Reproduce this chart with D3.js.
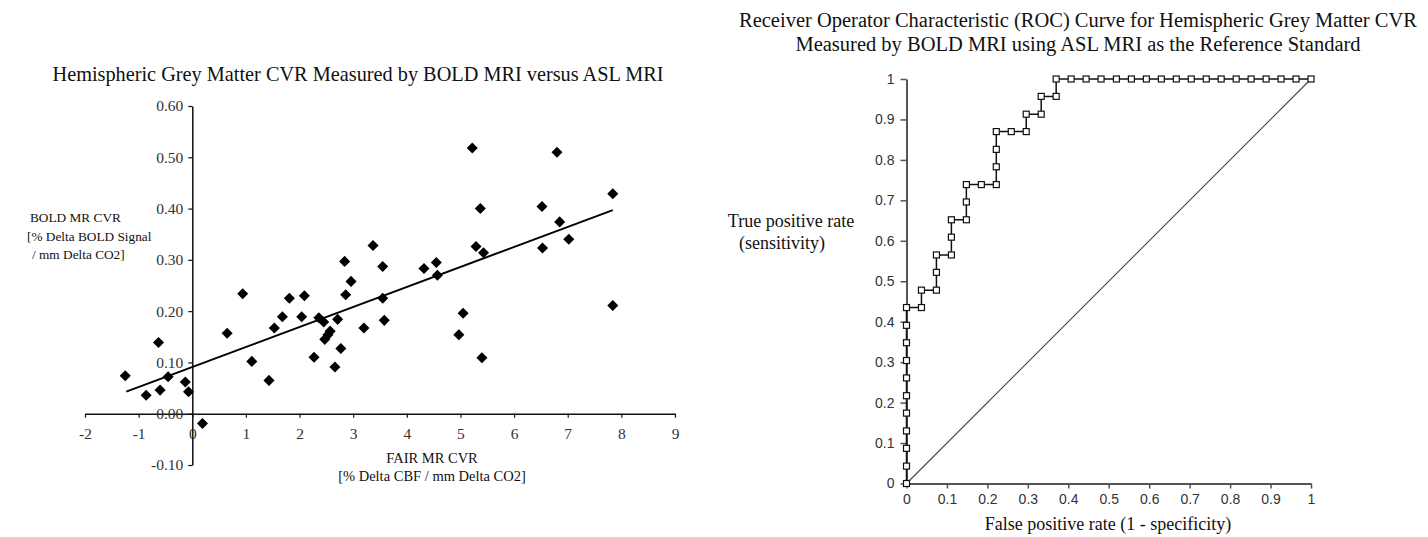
<!DOCTYPE html>
<html>
<head>
<meta charset="utf-8">
<script src="https://cdn.jsdelivr.net/npm/d3@7/dist/d3.min.js"></script>
<style>
  html, body { margin: 0; padding: 0; background: #fff; }
  svg { display: block; }
  .serif { font-family: "Liberation Serif", "Times New Roman", serif; }
  .sans { font-family: "Liberation Sans", Arial, sans-serif; }
</style>
</head>
<body>
<svg id="chart" width="1428" height="537"></svg>
<script>
// ---------------- DATA ----------------
// Left: scatter of FAIR MR CVR (x) vs BOLD MR CVR (y)
const fairCVR = [-1.25, -0.86, -0.63, -0.60, -0.45, -0.13, -0.07, 0.19, 0.65, 0.94,
  1.11, 1.43, 1.53, 1.68, 1.81, 2.04, 2.09, 2.27, 2.36, 2.45,
  2.47, 2.53, 2.57, 2.66, 2.71, 2.77, 2.84, 2.86, 2.96, 3.20,
  3.37, 3.55, 3.55, 3.58, 4.32, 4.55, 4.57, 4.97, 5.05, 5.22,
  5.29, 5.37, 5.40, 5.43, 6.52, 6.53, 6.80, 6.85, 7.02, 7.84, 7.84];
const boldCVR = [0.074, 0.036, 0.139, 0.046, 0.072, 0.062, 0.043, -0.019, 0.157, 0.234,
  0.102, 0.065, 0.167, 0.189, 0.225, 0.189, 0.230, 0.110, 0.187, 0.179,
  0.145, 0.154, 0.161, 0.091, 0.184, 0.127, 0.297, 0.232, 0.258, 0.167,
  0.328, 0.287, 0.225, 0.182, 0.283, 0.295, 0.270, 0.154, 0.196, 0.518,
  0.326, 0.400, 0.109, 0.314, 0.404, 0.323, 0.510, 0.374, 0.340, 0.429, 0.211];
const trendX = [-1.23, 7.84];
const trendY = [0.043, 0.397];
const scatterXTicks = [-2, -1, 0, 1, 2, 3, 4, 5, 6, 7, 8, 9];
const scatterYTicks = [-0.10, 0.00, 0.10, 0.20, 0.30, 0.40, 0.50, 0.60];

// Right: ROC curve
const rocFPR = [0, 0, 0, 0, 0, 0, 0, 0, 0, 0, 0,
  0.037, 0.037, 0.074, 0.074, 0.074, 0.111, 0.111, 0.111, 0.148, 0.148, 0.148,
  0.185, 0.222, 0.222, 0.222, 0.222, 0.259, 0.296, 0.296, 0.333, 0.333, 0.370, 0.370,
  0.407, 0.444, 0.481, 0.519, 0.556, 0.593, 0.630, 0.667, 0.704, 0.741,
  0.778, 0.815, 0.852, 0.889, 0.926, 0.963, 1.000];
const rocTPR = [0, 0.043, 0.087, 0.130, 0.174, 0.217, 0.261, 0.304, 0.348, 0.391, 0.435,
  0.435, 0.478, 0.478, 0.522, 0.565, 0.565, 0.609, 0.652, 0.652, 0.696, 0.739,
  0.739, 0.739, 0.783, 0.826, 0.870, 0.870, 0.870, 0.913, 0.913, 0.957, 0.957, 1,
  1, 1, 1, 1, 1, 1, 1, 1, 1, 1,
  1, 1, 1, 1, 1, 1, 1];
const rocTicks = [0, 0.1, 0.2, 0.3, 0.4, 0.5, 0.6, 0.7, 0.8, 0.9, 1];
const diagX = [0, 1];
const diagY = [0, 1];

// ---------------- DRAW ----------------
const svg = d3.select("#chart");
const hyphen = f => d => f(d).replace("\u2212", "-");

// ===== Left scatter =====
const sx = d3.scaleLinear().domain([-2, 9]).range([85, 675]);
const sy = d3.scaleLinear().domain([-0.10, 0.60]).range([465, 106]);

svg.append("text").attr("class", "serif")
  .attr("x", 358).attr("y", 81).attr("text-anchor", "middle")
  .attr("font-size", 20.3).attr("fill", "#111")
  .text("Hemispheric Grey Matter CVR Measured by BOLD MRI versus ASL MRI");

// x axis at y = 0
const xAxisL = svg.append("g")
  .attr("transform", `translate(0,${sy(0)})`)
  .call(d3.axisBottom(sx).tickValues(scatterXTicks).tickFormat(hyphen(d3.format("d")))
    .tickSize(4).tickSizeOuter(0));
// y axis at x = 0
const yAxisL = svg.append("g")
  .attr("transform", `translate(${sx(0)},0)`)
  .call(d3.axisLeft(sy).tickValues(scatterYTicks).tickFormat(hyphen(d3.format(".2f")))
    .tickSize(4).tickSizeOuter(0));
[xAxisL, yAxisL].forEach(g => {
  g.attr("font-family", null).attr("font-size", null);
  g.select(".domain").attr("stroke", "#111").attr("stroke-width", 1.5);
  g.selectAll(".tick line").attr("stroke", "#111").attr("stroke-width", 1.2);
  g.selectAll(".tick text").attr("class", "serif")
    .style("font-size", "15.5px").attr("fill", "#333");
});
xAxisL.selectAll(".tick text").attr("dy", "0.9em").attr("y", 11);
yAxisL.selectAll(".tick text").attr("x", -9);

// y title
const yTitleL = ["BOLD MR CVR", "[% Delta BOLD Signal", "/ mm Delta CO2]"];
svg.append("g").selectAll("text").data(yTitleL).join("text")
  .attr("class", "serif").attr("font-size", 13.3).attr("fill", "#111")
  .attr("x", (d, i) => [30, 27, 32][i]).attr("y", (d, i) => 222 + i * 18.5)
  .text(d => d);

// x title
const xTitleL = ["FAIR MR CVR", "[% Delta CBF / mm Delta CO2]"];
svg.append("g").selectAll("text").data(xTitleL).join("text")
  .attr("class", "serif").attr("font-size", 14.5).attr("fill", "#111")
  .attr("text-anchor", "middle")
  .attr("x", 432).attr("y", (d, i) => 463 + i * 18)
  .text(d => d);

// trend line
svg.append("path")
  .datum(d3.zip(trendX, trendY))
  .attr("fill", "none").attr("stroke", "#000").attr("stroke-width", 2)
  .attr("d", d3.line().x(d => sx(d[0])).y(d => sy(d[1])));

// diamonds
const diamond = d3.symbol().type(d3.symbolDiamond2).size(78);
svg.append("g").selectAll("path").data(d3.zip(fairCVR, boldCVR)).join("path")
  .attr("transform", d => `translate(${sx(d[0])},${sy(d[1])})`)
  .attr("d", diamond)
  .attr("fill", "#000");

// ===== Right ROC =====
const rx = d3.scaleLinear().domain([0, 1]).range([906.5, 1311]);
const ry = d3.scaleLinear().domain([0, 1]).range([483.5, 79]);

svg.append("g").selectAll("text")
  .data(["Receiver Operator Characteristic (ROC) Curve for Hemispheric Grey Matter CVR",
         "Measured by BOLD MRI using ASL MRI as the Reference Standard"])
  .join("text").attr("class", "serif").attr("font-size", 20.5).attr("fill", "#111")
  .attr("text-anchor", "middle").attr("x", 1078).attr("y", (d, i) => 27 + i * 24)
  .text(d => d);

const xAxisR = svg.append("g")
  .attr("transform", `translate(0,${ry(0)})`)
  .call(d3.axisBottom(rx).tickValues(rocTicks).tickFormat(d => d3.format("~g")(d))
    .tickSize(5).tickSizeOuter(0));
const yAxisR = svg.append("g")
  .attr("transform", `translate(${rx(0)},0)`)
  .call(d3.axisLeft(ry).tickValues(rocTicks).tickFormat(d => d3.format("~g")(d))
    .tickSize(6).tickSizeOuter(0));
[xAxisR, yAxisR].forEach(g => {
  g.attr("font-family", null).attr("font-size", null);
  g.select(".domain").attr("stroke", "#555").attr("stroke-width", 2);
  g.selectAll(".tick line").attr("stroke", "#555").attr("stroke-width", 1.5);
  g.selectAll(".tick text").attr("class", "sans").attr("font-size", 14)
    .attr("fill", "#333");
});
xAxisR.selectAll(".tick text").attr("y", 11);
yAxisR.selectAll(".tick text").attr("x", -12);

// diagonal
svg.append("path")
  .datum(d3.zip(diagX, diagY))
  .attr("fill", "none").attr("stroke", "#444").attr("stroke-width", 1.1)
  .attr("d", d3.line().x(d => rx(d[0])).y(d => ry(d[1])));

// ROC curve
const rocPts = d3.zip(rocFPR, rocTPR);
svg.append("path")
  .datum(rocPts)
  .attr("fill", "none").attr("stroke", "#111").attr("stroke-width", 1.5)
  .attr("d", d3.line().x(d => rx(d[0])).y(d => ry(d[1])));
svg.append("g").selectAll("rect").data(rocPts).join("rect")
  .attr("x", d => rx(d[0]) - 3).attr("y", d => ry(d[1]) - 3)
  .attr("width", 6).attr("height", 6)
  .attr("fill", "#fff").attr("stroke", "#111").attr("stroke-width", 1.2);

// axis titles
svg.append("g").selectAll("text").data(["True positive rate", "(sensitivity)"])
  .join("text").attr("class", "serif").attr("font-size", 18).attr("fill", "#111")
  .attr("text-anchor", "middle").attr("x", (d, i) => i === 0 ? 791 : 782)
  .attr("y", (d, i) => 227 + i * 22)
  .text(d => d);
svg.append("text").attr("class", "serif").attr("font-size", 18).attr("fill", "#111")
  .attr("text-anchor", "middle").attr("x", 1108).attr("y", 530)
  .text("False positive rate (1 - specificity)");
</script>
</body>
</html>
